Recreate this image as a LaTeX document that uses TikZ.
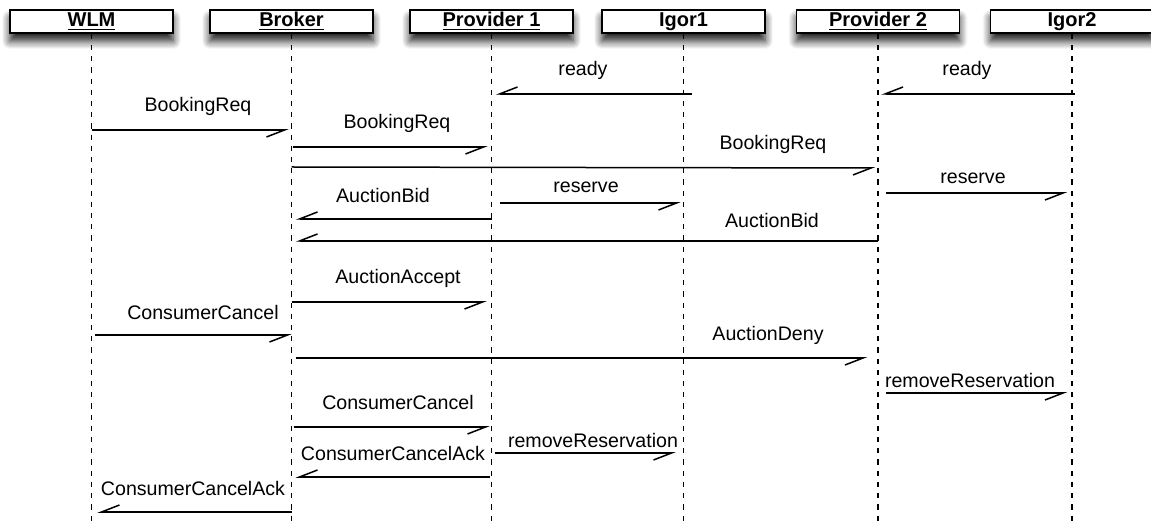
\documentclass[tikz,border=0pt]{standalone}
\usepackage{fontspec}
\setmainfont{Liberation Sans}
\usetikzlibrary{arrows.meta,shadows.blur,calc}
\begin{document}
\begin{tikzpicture}[x=0.5pt,y=-0.5pt,
  head/.style={draw, line width=0.9pt, fill=white, minimum width=81.5pt, minimum height=11.5pt, inner sep=0pt,
    text height=7pt, text depth=2pt,
    font=\fontsize{10}{11}\selectfont\bfseries,
    blur shadow={shadow xshift=0pt, shadow yshift=-4pt, shadow blur radius=4pt, shadow blur steps=8, shadow opacity=90}},
  life/.style={line width=0.8pt, dash pattern=on 2.6pt off 3pt},
  msg/.style={line width=0.75pt, -{Straight Barb[right,length=9pt,width=7pt]}},
  lbl/.style={fill=white, inner sep=1pt, font=\fontsize{9.8}{11}\selectfont}]
\useasboundingbox (0,0) rectangle (1151,523);
\node[head] (W)  at (91.5,21.5)  {\underline{WLM}};
\node[head] (B)  at (291.5,21.5) {\underline{Broker}};
\node[head] (P1) at (491.5,21.5) {\underline{Provider 1}};
\node[head] (I1) at (683.5,21.5) {\underline{Igor1}};
\node[head] (P2) at (878,21.5)   {\underline{Provider 2}};
\node[head] (I2) at (1072,21.5)  {\underline{Igor2}};
\foreach \n in {W,B,P1,I1,P2,I2} \draw[life] (\n.south) -- (\n.south |- 0,523);
% messages
\draw[msg] ($(I1 |- 0,94)+(8,0)$) -- ($(P1 |- 0,94)+(4,0)$);
\node[lbl] (l1) at (583,70) {ready};
\draw[msg] ($(I2 |- 0,94)+(3,0)$) -- ($(P2 |- 0,94)+(3,0)$);
\node[lbl] (l2) at (967,70) {ready};
\draw[msg] (W |- 0,130) -- ($(B |- 0,130)+(-3,0)$);
\node[lbl] (l3) at (198,106) {BookingReq};
\draw[msg] ($(B |- 0,147)+(1,0)$) -- ($(P1 |- 0,147)+(-4,0)$);
\node[lbl] (l4) at (397,123) {BookingReq};
\draw[msg] (B |- 0,167) -- ($(P2 |- 0,168)+(-3,0)$);
\node[lbl] (l5) at (773,144) {BookingReq};
\draw[msg] ($(P1 |- 0,203)+(8,0)$) -- ($(I1 |- 0,203)+(-3,0)$);
\node[lbl] (l6) at (586,187) {reserve};
\draw[msg] ($(P2 |- 0,193)+(8,0)$) -- ($(I2 |- 0,193)+(-5,0)$);
\node[lbl] (l7) at (973,178) {reserve};
\draw[msg] (P1 |- 0,219) -- ($(B |- 0,219)+(4,0)$);
\node[lbl] (l8) at (383,195) {AuctionBid};
\draw[msg] (P2 |- 0,241) -- ($(B |- 0,241)+(4,0)$);
\node[lbl] (l9) at (772,220) {AuctionBid};
\draw[msg] (B |- 0,302) -- ($(P1 |- 0,302)+(-5,0)$);
\node[lbl] (l10) at (398,278) {AuctionAccept};
\draw[msg] ($(W |- 0,335)+(3,0)$) -- (B |- 0,335);
\node[lbl] (l11) at (203,312) {ConsumerCancel};
\draw[msg] ($(B |- 0,358)+(4,0)$) -- ($(P2 |- 0,358)+(-11,0)$);
\node[lbl] (l12) at (768,335) {AuctionDeny};
\draw[msg] ($(P2 |- 0,393)+(8,0)$) -- ($(I2 |- 0,393)+(-5,0)$);
\node[lbl] (l13) at (970,380) {removeReservation};
\draw[msg] ($(B |- 0,427)+(2,0)$) -- ($(P1 |- 0,427)+(-2,0)$);
\node[lbl] (l14) at (398,402) {ConsumerCancel};
\draw[msg] ($(P1 |- 0,453)+(3,0)$) -- ($(I1 |- 0,453)+(-8,0)$);
\node[lbl] (l15) at (593,440) {removeReservation};
\draw[msg] ($(P1 |- 0,477)+(-2,0)$) -- ($(B |- 0,477)+(4,0)$);
\node[lbl] (l16) at (393,453) {ConsumerCancelAck};
\draw[msg] (B |- 0,512) -- ($(W |- 0,512)+(6,0)$);
\node[lbl] (l17) at (193,488) {ConsumerCancelAck};
\end{tikzpicture}
\end{document}
